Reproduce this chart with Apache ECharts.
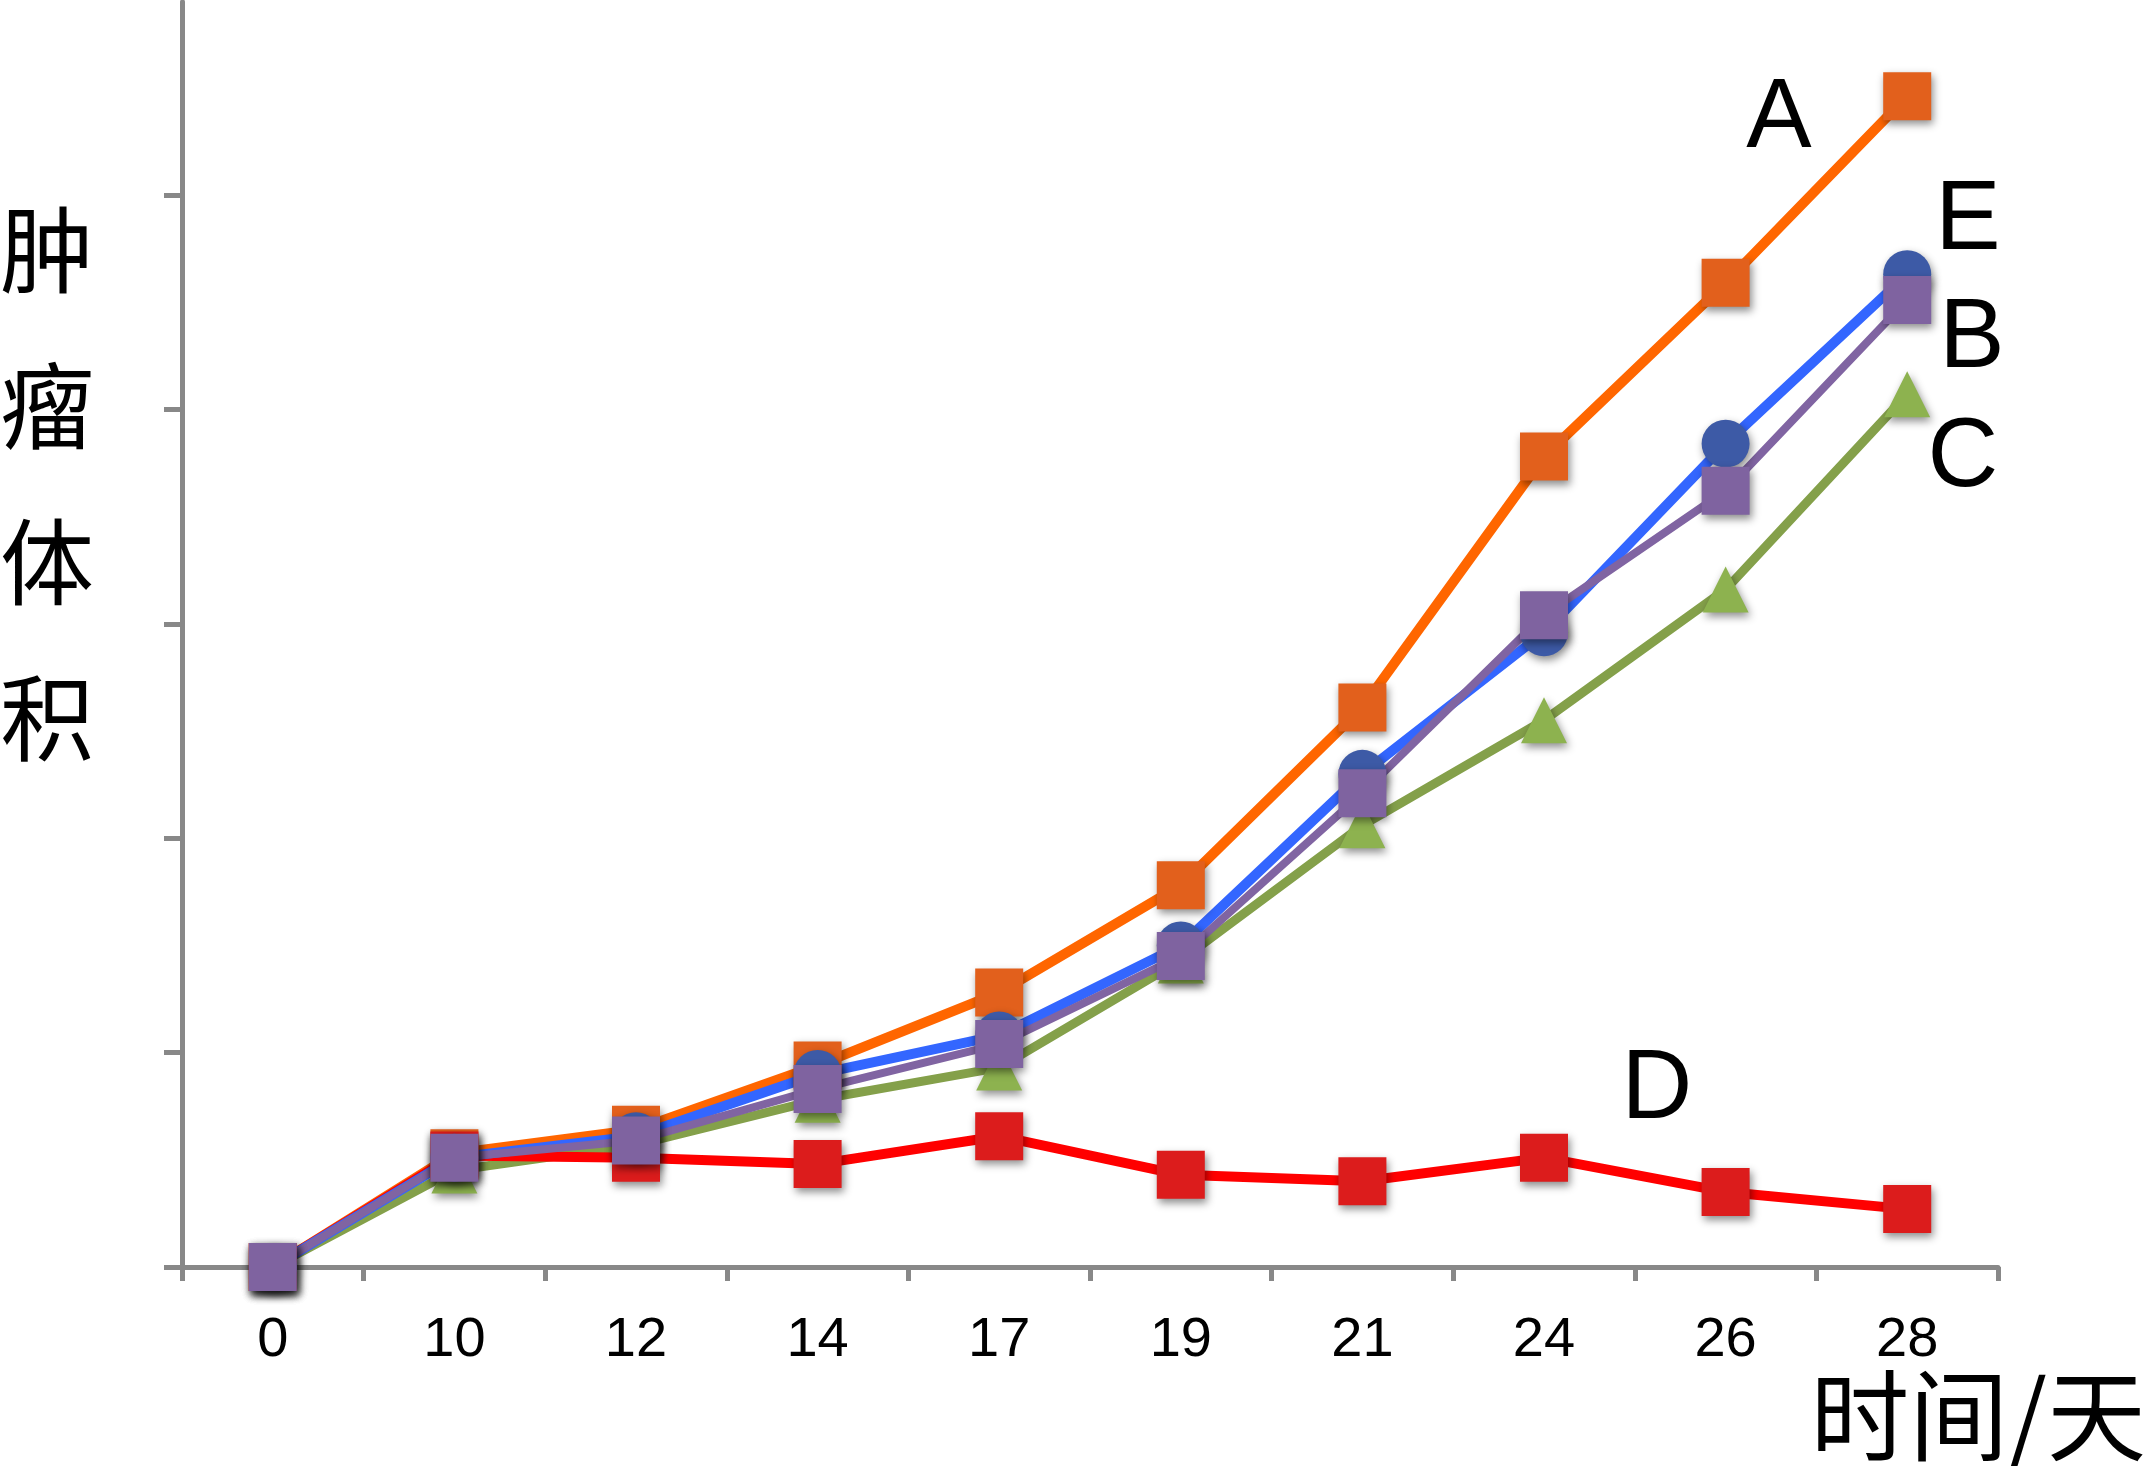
<!DOCTYPE html>
<html>
<head>
<meta charset="utf-8">
<script src="https://cdn.jsdelivr.net/npm/echarts@6/dist/echarts.min.js"></script>
<style>
html,body{margin:0;padding:0;background:#fff;}
#chart{width:2148px;height:1466px;}
</style>
</head>
<body>
<div id="chart"></div>
<script>
// Data (tumour volume, arbitrary units; one y tick = 1 unit)
const days = ['0', '10', '12', '14', '17', '19', '21', '24', '26', '28'];
const yTicks = [0, 1, 2, 3, 4, 5];
const seriesA = [0, 0.53, 0.64, 0.94, 1.28, 1.78, 2.61, 3.78, 4.59, 5.46];
const seriesE = [0, 0.51, 0.61, 0.90, 1.08, 1.50, 2.30, 2.96, 3.84, 4.63];
const seriesB = [0, 0.51, 0.59, 0.83, 1.04, 1.45, 2.21, 3.04, 3.62, 4.51];
const seriesC = [0, 0.45, 0.57, 0.78, 0.93, 1.43, 2.06, 2.55, 3.16, 4.07];
const seriesD = [0, 0.52, 0.51, 0.48, 0.61, 0.43, 0.40, 0.51, 0.35, 0.27];
const seriesNames = ['A', 'B', 'C', 'D', 'E'];

const chart = echarts.init(document.getElementById('chart'));

function mk(name, data, lineColor, markColor, symbol, width, size) {
  return {
    name: name,
    type: 'line',
    data: data,
    symbol: symbol,
    symbolSize: size,
    showAllSymbol: true,
    lineStyle: { color: lineColor, width: width },
    itemStyle: {
      color: markColor,
      shadowBlur: 8,
      shadowColor: 'rgba(0,0,0,0.45)',
      shadowOffsetX: 2,
      shadowOffsetY: 4
    },
    emphasis: { disabled: true },
    animation: false
  };
}

const latin = 'Liberation Sans, Arial, sans-serif';
const cjk = '"Noto Sans CJK SC", sans-serif';

chart.setOption({
  backgroundColor: '#ffffff',
  animation: false,
  grid: { left: 182, right: 150, top: 2, bottom: 199 },
  xAxis: {
    type: 'category',
    data: days,
    boundaryGap: true,
    axisLine: { lineStyle: { color: '#888888', width: 5 } },
    axisTick: { show: true, length: 14, lineStyle: { color: '#888888', width: 5 } },
    axisLabel: { fontSize: 56, color: '#000', fontFamily: latin, margin: 46 },
    splitLine: { show: false }
  },
  yAxis: {
    type: 'value',
    min: 0,
    max: 5.9,
    interval: 1,
    axisLine: { show: true, lineStyle: { color: '#888888', width: 5 } },
    axisTick: { show: true, length: 18, customValues: yTicks, lineStyle: { color: '#888888', width: 5 } },
    axisLabel: { show: false },
    splitLine: { show: false }
  },
  series: [
    mk(seriesNames[0], seriesA, '#FF6600', '#E2601C', 'rect', 10, 48),
    mk(seriesNames[2], seriesC, '#84A04A', '#8DB24F', 'triangle', 9, 46),
    mk(seriesNames[3], seriesD, '#FF0000', '#DC1C1C', 'rect', 10, 48),
    mk(seriesNames[4], seriesE, '#3366FF', '#3D5AA6', 'circle', 10, 48),
    mk(seriesNames[1], seriesB, '#8064A2', '#7F63A0', 'rect', 8, 48)
  ],
  graphic: [
    { type: 'text', left: 0, top: 172, style: { text: '肿\n瘤\n体\n积', font: '94px ' + cjk, fill: '#000', lineHeight: 156 } },
    { type: 'text', right: 2, top: 1366, style: { text: '时间/天', font: '99px ' + cjk, fill: '#000' } },
    { type: 'text', x: 1779, y: 120, style: { text: 'A', font: '98px ' + latin, fill: '#000', align: 'center', verticalAlign: 'middle' } },
    { type: 'text', x: 1968, y: 222, style: { text: 'E', font: '98px ' + latin, fill: '#000', align: 'center', verticalAlign: 'middle' } },
    { type: 'text', x: 1972, y: 340, style: { text: 'B', font: '98px ' + latin, fill: '#000', align: 'center', verticalAlign: 'middle' } },
    { type: 'text', x: 1963, y: 459, style: { text: 'C', font: '98px ' + latin, fill: '#000', align: 'center', verticalAlign: 'middle' } },
    { type: 'text', x: 1657, y: 1091, style: { text: 'D', font: '98px ' + latin, fill: '#000', align: 'center', verticalAlign: 'middle' } }
  ]
});
</script>
</body>
</html>
